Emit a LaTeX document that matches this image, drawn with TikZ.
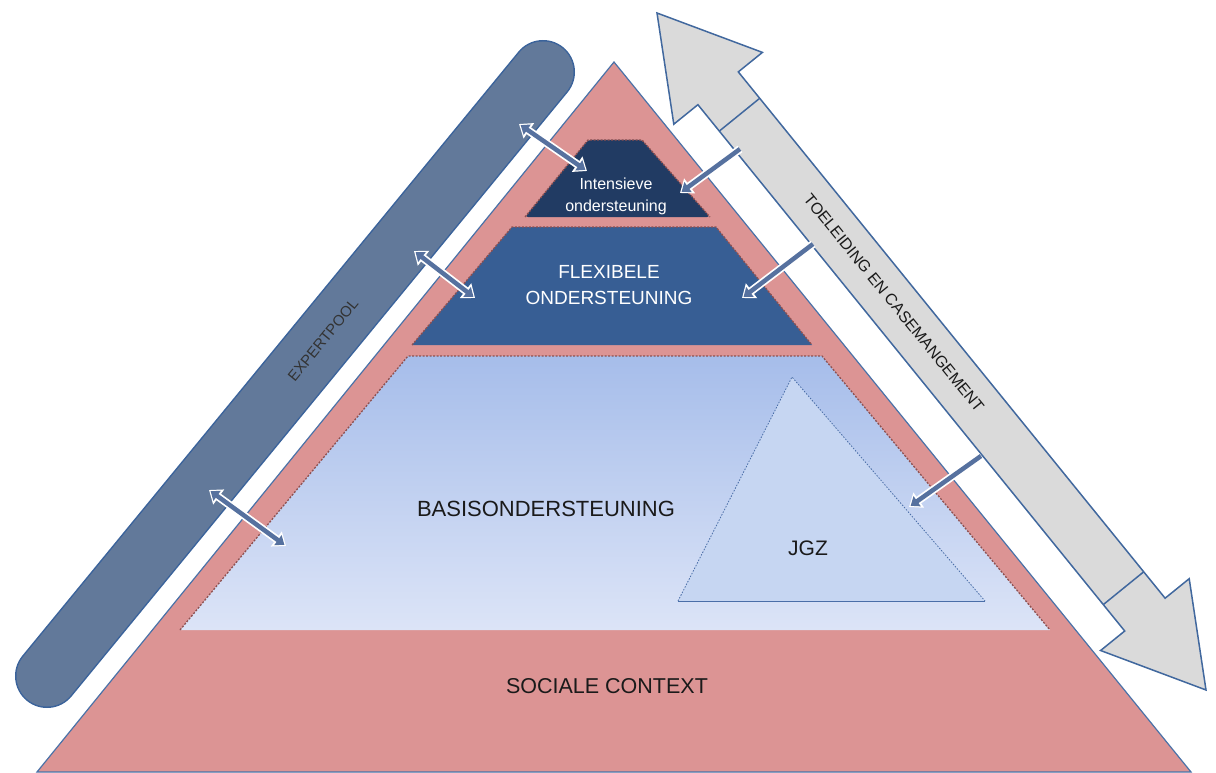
\documentclass[tikz,border=0pt]{standalone}
\usepackage{fontspec}
\setmainfont{Liberation Sans}
\usetikzlibrary{arrows.meta,calc}
\definecolor{pinkc}{HTML}{DC9494}
\definecolor{pyrline}{HTML}{4A72A8}
\definecolor{navyc}{HTML}{213B63}
\definecolor{flexc}{HTML}{375E94}
\definecolor{basistop}{HTML}{A6BDEA}
\definecolor{basisbot}{HTML}{DCE4F7}
\definecolor{jgzc}{HTML}{C6D6F2}
\definecolor{jgzline}{HTML}{4A6EA8}
\definecolor{barfill}{HTML}{62799A}
\definecolor{barline}{HTML}{3B639B}
\definecolor{grayfill}{HTML}{DADADA}
\definecolor{arrline}{HTML}{41689E}
\definecolor{linkc}{HTML}{56719F}
\definecolor{edgec}{HTML}{8E5050}
\definecolor{txtc}{HTML}{1A1A1A}
\tikzset{
  layeredge/.style={draw=edgec, line width=1.3pt, dash pattern=on 2pt off 1.5pt},
  lbl/.style={inner sep=0pt, text=txtc},
  linkout/.style={line width=8pt, draw=white},
  linkin/.style={line width=4.5pt, draw=linkc},
}
\begin{document}
\begin{tikzpicture}[x=1pt,y=-1pt]
\useasboundingbox (0,0) rectangle (1216,773);

% expert pool bar
\coordinate (barA) at (543,72);
\coordinate (barB) at (47,676);
\draw[line width=64pt, line cap=round, draw=barline] (barA) -- (barB);
\draw[line width=61pt, line cap=round, draw=barfill] (barA) -- (barB);
\node[lbl, rotate=50.6, font=\fontsize{15}{18}\selectfont, text=black!80] (ep) at (323,340) {EXPERTPOOL};

% main pyramid
\draw[fill=pinkc, draw=pyrline, line width=1.2pt] (614,62) -- (1191,772) -- (37,772) -- cycle;

% basis layer
\shade[top color=basistop, bottom color=basisbot] (408,356) -- (822,356) -- (1050,630) -- (180,630) -- cycle;
\draw[layeredge] (180,630) -- (408,356) -- (822,356) -- (1050,630);

% flexibele layer
\fill[flexc] (512,227) -- (716,227) -- (812,345) -- (412,345) -- cycle;
\draw[layeredge] (412,345) -- (512,227) -- (716,227) -- (812,345);

% intensieve layer
\fill[navyc, rounded corners=3pt] (588,140) -- (642,140) -- (710,217) -- (525,217) -- cycle;
\draw[layeredge] (525,217) -- (588,140) -- (642,140) -- (710,217);

% JGZ triangle
\fill[jgzc] (792,377) -- (985,601) -- (678,601) -- cycle;
\draw[draw=jgzline, line width=0.8pt, dash pattern=on 1.5pt off 1.5pt] (678,601) -- (792,377) -- (985,601);
\draw[draw=jgzline, line width=0.8pt] (678,601) -- (985,601);

% texts in pyramid
\node[lbl, font=\fontsize{22}{26}\selectfont] (basis) at (546,509) {BASISONDERSTEUNING};
\node[lbl, font=\fontsize{21.5}{26}\selectfont] (soc) at (607,686) {SOCIALE CONTEXT};
\node[lbl, font=\fontsize{21}{26}\selectfont] (jgz) at (808,548) {JGZ};
\node[lbl, text=white, align=center, font=\fontsize{19}{26}\selectfont] (flex) at (609,285) {FLEXIBELE\\ONDERSTEUNING};
\node[lbl, text=white, align=center, font=\fontsize{16}{22}\selectfont] (int) at (616,196) {Intensieve\\ondersteuning};

% big double arrow
\draw[fill=grayfill, draw=arrline, line width=1.5pt, line join=miter]
  (657,13) -- (762.4,52.4) -- (738.3,71.9) -- (1165.1,598.2) -- (1189.2,578.7)
  -- (1206,690) -- (1100.6,650.5) -- (1124.7,631.0) -- (697.9,104.7) -- (673.8,124.2) -- cycle;
\draw[draw=arrline, line width=1.5pt] (759.7,98.3) -- (719.3,131.1);
\draw[draw=arrline, line width=1.5pt] (1143.7,571.8) -- (1103.3,604.6);
\node[lbl, rotate=-50.9, font=\fontsize{16}{18}\selectfont] (tc) at (894,303) {TOELEIDING EN CASEMANGEMENT};

% link arrows from expert pool (double headed)
\coordinate (e1a) at (519,124); \coordinate (e1b) at (587,171);
\coordinate (e2a) at (414,251); \coordinate (e2b) at (475,298);
\coordinate (e3a) at (209,490); \coordinate (e3b) at (286,546);
\foreach \a/\b in {e1a/e1b, e2a/e2b, e3a/e3b}{
  \draw[linkout, {Triangle[length=12pt,width=18pt]}-{Triangle[length=12pt,width=18pt]}] (\a) -- (\b);
  \draw[linkin, shorten <=2pt, shorten >=2pt, {Triangle[length=8pt,width=12pt]}-{Triangle[length=8pt,width=12pt]}] (\a) -- (\b);
}

% link arrows from case management (single headed)
\coordinate (t1a) at (740,149); \coordinate (t1b) at (680,193);
\coordinate (t2a) at (813,244); \coordinate (t2b) at (742,298);
\coordinate (t3a) at (981,456); \coordinate (t3b) at (909,507);
\foreach \a/\b in {t1a/t1b, t2a/t2b, t3a/t3b}{
  \draw[linkout, -{Triangle[length=12pt,width=18pt]}] (\a) -- (\b);
  \draw[linkin, shorten >=2pt, -{Triangle[length=8pt,width=12pt]}] (\a) -- (\b);
}
\end{tikzpicture}
\end{document}
